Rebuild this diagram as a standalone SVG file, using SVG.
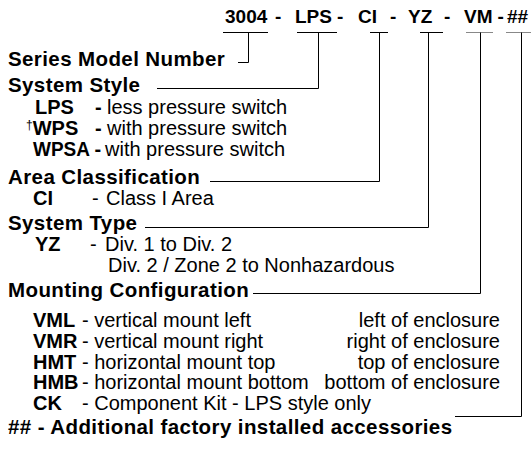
<svg xmlns="http://www.w3.org/2000/svg" width="531" height="449" viewBox="0 0 531 449">
<style>
text{font-family:"Liberation Sans",Arial,sans-serif;font-size:20px;fill:#000}
.b{font-weight:bold}
.h{font-weight:bold;font-size:20.5px;letter-spacing:0.4px}
.t{font-weight:bold;font-size:19px}
.r{text-anchor:end}
.c line,.c polyline{stroke:#000;stroke-width:1;fill:none}
.c .g{stroke:#888}
</style>
<rect width="531" height="449" fill="#fff"/>
<g id="title">
<text class="t" y="23"><tspan x="225">3004</tspan><tspan x="275">-</tspan><tspan x="295">LPS</tspan><tspan x="337">-</tspan><tspan x="358">CI</tspan><tspan x="390">-</tspan><tspan x="408">YZ</tspan><tspan x="444">-</tspan><tspan x="464">VM</tspan><tspan x="497.5">-</tspan><tspan x="507">##</tspan></text>
</g>
<g id="series">
<text class="h" x="8" y="66">Series Model Number</text>
</g>
<g id="system-style">
<text class="h" x="8" y="92">System Style</text>
<text class="b" x="35" y="113.5">LPS</text><text y="113.5"><tspan class="b" x="95">-</tspan><tspan x="107">less pressure switch</tspan></text>
<text x="26" y="135"><tspan font-size="12" dy="-6">†</tspan><tspan class="b" dy="6">WPS</tspan></text><text y="135"><tspan class="b" x="95">-</tspan><tspan x="107">with pressure switch</tspan></text>
<text class="b" x="33" y="156" textLength="57" lengthAdjust="spacingAndGlyphs">WPSA</text><text y="156"><tspan class="b" x="94.5">-</tspan><tspan x="105">with pressure switch</tspan></text>
</g>
<g id="area-classification">
<text class="h" x="8" y="184">Area Classification</text>
<text class="b" x="33" y="205">CI</text><text y="205"><tspan x="92">-</tspan><tspan x="106">Class I Area</tspan></text>
</g>
<g id="system-type">
<text class="h" x="8" y="229.5">System Type</text>
<text class="b" x="35" y="251">YZ</text><text y="251"><tspan x="90">-</tspan><tspan x="105">Div. 1 to Div. 2</tspan></text>
<text x="108" y="272">Div. 2 / Zone 2 to Nonhazardous</text>
</g>
<g id="mounting-configuration">
<text class="h" x="8" y="297">Mounting Configuration</text>
<text class="b" x="33" y="327">VML</text><text x="82" y="327">- vertical mount left</text><text class="r" x="500" y="327">left of enclosure</text>
<text class="b" x="33" y="347.8">VMR</text><text x="82" y="347.8">- vertical mount right</text><text class="r" x="500" y="347.8">right of enclosure</text>
<text class="b" x="33" y="368.6">HMT</text><text x="82" y="368.6">- horizontal mount top</text><text class="r" x="500" y="368.6">top of enclosure</text>
<text class="b" x="33" y="389.4">HMB</text><text x="82" y="389.4">- horizontal mount bottom</text><text class="r" x="500" y="389.4">bottom of enclosure</text>
<text class="b" x="33" y="410.2">CK</text><text x="82" y="410.2">- Component Kit - LPS style only</text>
</g>
<g id="accessories">
<text class="h" x="8" y="434">## - Additional factory installed accessories</text>
</g>
<g id="connectors" class="c">
<line x1="223" y1="32.5" x2="268" y2="32.5"/>
<polyline points="248.5,32.5 248.5,62.5 238,62.5"/>
<line x1="297" y1="32.5" x2="337" y2="32.5"/>
<polyline points="318.5,32.5 318.5,88.5 157,88.5"/>
<line x1="370" y1="32.5" x2="388" y2="32.5"/>
<polyline points="379.5,32.5 379.5,181.5 210,181.5"/>
<line x1="420" y1="32.5" x2="443" y2="32.5"/>
<polyline points="428.5,32.5 428.5,227.5 145,227.5"/>
<line class="g" x1="466" y1="32.5" x2="493" y2="32.5"/>
<polyline points="480.5,32.5 480.5,293.5 253,293.5"/>
<line class="g" x1="506" y1="32.5" x2="531" y2="32.5"/>
<polyline points="521.5,32.5 521.5,416.5 455,416.5"/>
</g>
</svg>
